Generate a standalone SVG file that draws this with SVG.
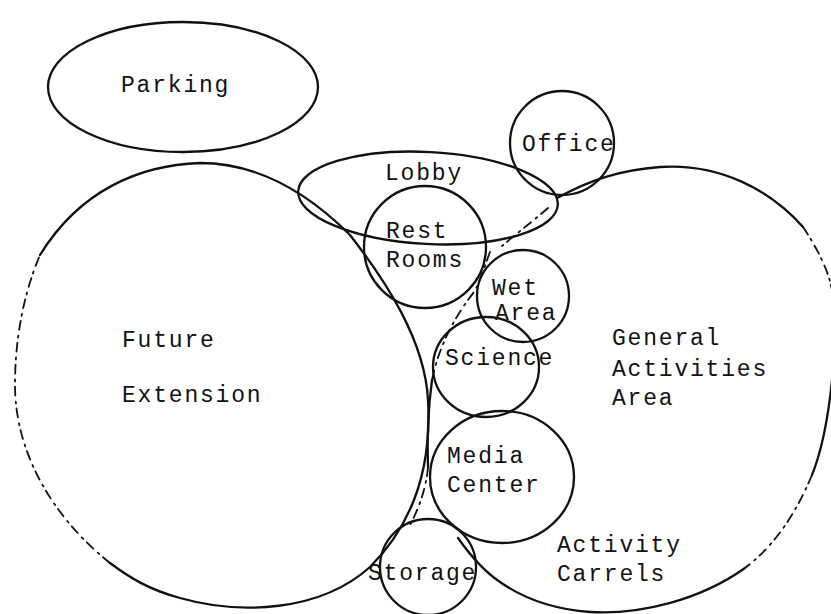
<svg xmlns="http://www.w3.org/2000/svg" width="831" height="614" viewBox="0 0 831 614">
  <style>
    .outline { fill: none; stroke: #111; stroke-width: 2.3; stroke-linecap: round; stroke-linejoin: round; }
    .broken { fill: none; stroke: #111; stroke-width: 1.8; stroke-dasharray: 9 5 2 6; stroke-linecap: round; }
    .label { font-family: "Courier New", "Liberation Mono", monospace; font-size: 23px; letter-spacing: 1.8px; fill: #111; }
  </style>
  <rect width="831" height="614" fill="#fff"/>

  <!-- large zones -->
  <g id="future-extension">
    <path class="outline" d="M 40 255 C 80 190, 140 165, 200 163 C 260 163, 310 195, 350 235 C 385 280, 425 340, 428 400 C 432 470, 412 525, 370 567 C 320 612, 240 615, 180 598 C 150 590, 130 578, 110 563"/>
    <path class="broken" d="M 110 563 C 50 515, 15 450, 15 385 C 15 335, 25 290, 40 255"/>
    <text class="label" x="122" y="347">Future</text>
    <text class="label" x="122" y="402">Extension</text>
  </g>

  <g id="general-activities">
    <path class="outline" d="M 557 198 C 590 180, 620 170, 660 167 C 720 163, 770 190, 803 227"/>
    <path class="broken" d="M 803 227 C 815 245, 826 265, 831 285"/>
    <path class="outline" d="M 831 285 C 840 320, 838 350, 832 380 C 828 420, 822 450, 812 475"/>
    <path class="broken" d="M 812 475 C 795 515, 775 545, 745 568"/>
    <path class="outline" d="M 745 568 C 700 600, 640 615, 590 612 C 550 609, 520 596, 500 582 C 485 572, 470 555, 458 538"/>
    <path class="broken" d="M 548 208 C 532 222, 516 234, 502 246"/>
    <path class="broken" d="M 490 252 C 484 268, 480 282, 474 292 C 460 310, 440 340, 432 380"/>
    <path class="outline" d="M 432 380 C 428 410, 427 440, 428 467"/>
    <path class="broken" d="M 428 467 C 426 490, 418 510, 410 525"/>
    <text class="label" x="612" y="345">General</text>
    <text class="label" x="612" y="376">Activities</text>
    <text class="label" x="612" y="405">Area</text>
    <text class="label" x="557" y="552">Activity</text>
    <text class="label" x="557" y="581">Carrels</text>
  </g>

  <!-- rooms -->
  <g id="parking">
    <ellipse class="outline" cx="183" cy="87" rx="135" ry="65"/>
    <text class="label" x="121" y="92">Parking</text>
  </g>

  <g id="lobby">
    <ellipse class="outline" cx="428" cy="198" rx="130" ry="46" transform="rotate(3 428 198)"/>
    <text class="label" x="385" y="180">Lobby</text>
  </g>

  <g id="office">
    <circle class="outline" cx="562" cy="143" r="52"/>
    <text class="label" x="522" y="151">Office</text>
  </g>

  <g id="rest-rooms">
    <circle class="outline" cx="425" cy="247" r="61"/>
    <text class="label" x="386" y="238">Rest</text>
    <text class="label" x="386" y="267">Rooms</text>
  </g>

  <g id="wet-area">
    <circle class="outline" cx="523" cy="296" r="46"/>
    <text class="label" x="492" y="295">Wet</text>
    <text class="label" x="495" y="320">Area</text>
  </g>

  <g id="science">
    <ellipse class="outline" cx="486" cy="367" rx="53" ry="50"/>
    <text class="label" x="445" y="365">Science</text>
  </g>

  <g id="media-center">
    <ellipse class="outline" cx="502" cy="477" rx="72" ry="66"/>
    <text class="label" x="447" y="463">Media</text>
    <text class="label" x="447" y="492">Center</text>
  </g>

  <g id="storage">
    <circle class="outline" cx="428" cy="567" r="48"/>
    <text class="label" x="368" y="580">Storage</text>
  </g>
</svg>
